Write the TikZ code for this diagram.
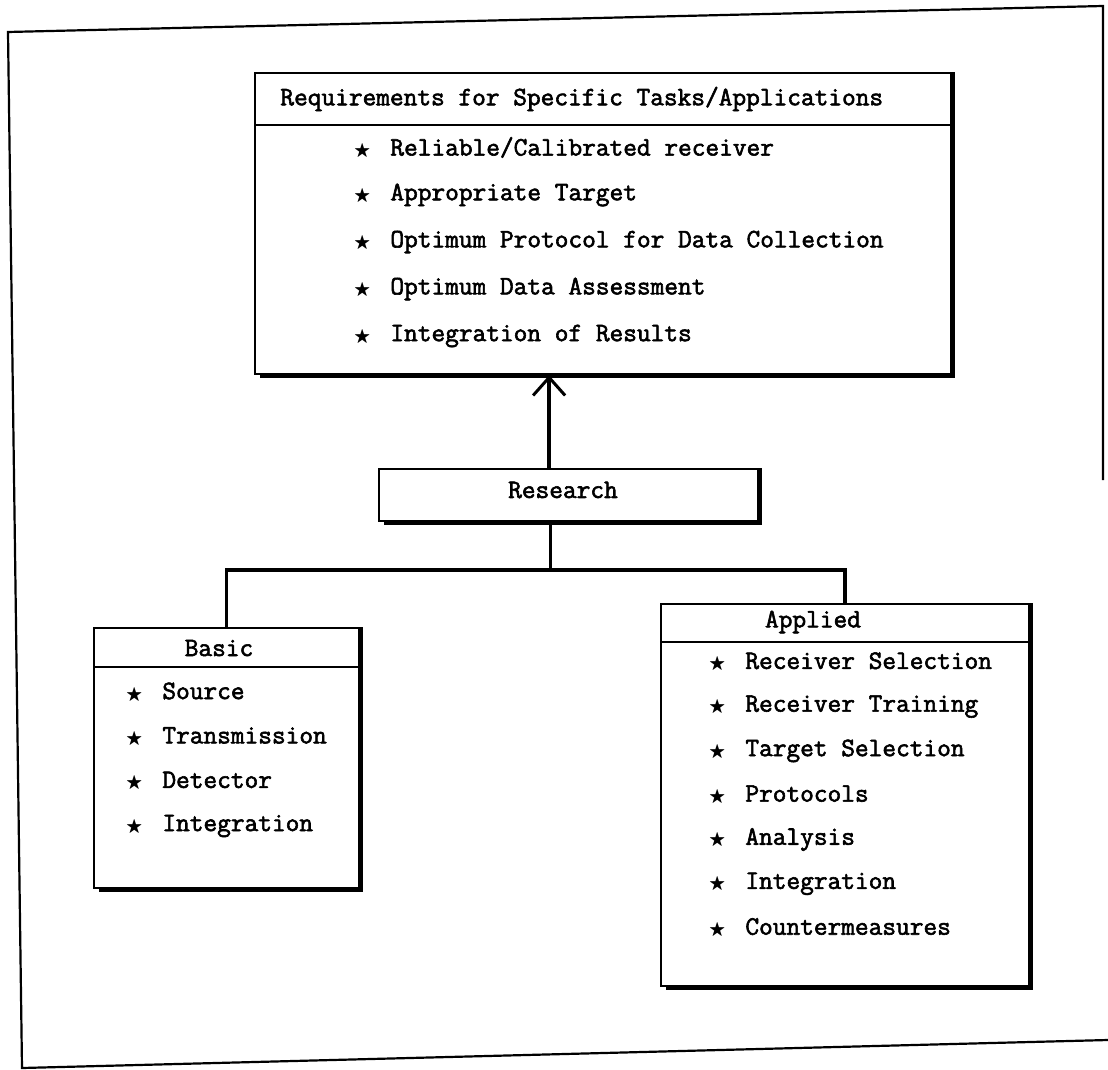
\documentclass[tikz,border=0pt]{standalone}
\usepackage{fontspec}
\usepackage{amssymb}
\newfontfamily\typewr{Latin Modern Mono}[FakeBold=2.2]
\usetikzlibrary{arrows.meta}

\newcommand{\itemstar}{\llap{\scalebox{0.65}{$\bigstar$}\hspace{10pt}}}

\tikzset{
  panel/.style={draw, line width=1.1pt, inner sep=0pt, anchor=north west},
  shadowline/.style={line width=2.6pt},
  divider/.style={line width=0.9pt},
  link/.style={line width=1.8pt},
  entry/.style={anchor=west, inner sep=0pt,
    font=\typewr\bfseries\fontsize{13.3}{16}\selectfont},
  title/.style={entry, anchor=center}
}

\begin{document}
\begin{tikzpicture}[x=0.5pt, y=-0.5pt]
  \useasboundingbox (0,0) rectangle (1108,1070);

  % page frame
  \draw[line width=1.1pt] (1103,480) -- (1103,6) -- (8,32) -- (22,1068) -- (1108,1040);

  % requirements box
  \node[panel, minimum width=348pt, minimum height=150.5pt] (req) at (254,72) {};
  \draw[shadowline] ([xshift=3pt]req.south west) -- (req.south east) -- (req.north east);
  \draw[divider] ([yshift=-26.5pt]req.north west) -- ([yshift=-26.5pt]req.north east);
  \node[entry] (reqtitle) at (280,99) {Requirements for Specific Tasks/Applications};
  \foreach \t [count=\i] in {Reliable/Calibrated receiver, Appropriate Target,
      Optimum Protocol for Data Collection, Optimum Data Assessment,
      Integration of Results}
    \node[entry] (req-\i) at (390,101+47*\i) {\itemstar\t};

  % research box
  \node[panel, minimum width=189.5pt, minimum height=26pt] (res) at (378,468) {};
  \draw[shadowline] ([xshift=3pt]res.south west) -- (res.south east) -- (res.north east);
  \node[title] (restitle) at (563,490) {Research};

  % basic box
  \node[panel, minimum width=132.5pt, minimum height=130pt] (basic) at (93,627) {};
  \draw[shadowline] ([xshift=3pt]basic.south west) -- (basic.south east) -- (basic.north east);
  \draw[divider] ([yshift=-20pt]basic.north west) -- ([yshift=-20pt]basic.north east);
  \node[title] (basictitle) at (219,648) {Basic};
  \foreach \t [count=\i] in {Source, Transmission, Detector, Integration}
    \node[entry] (basic-\i) at (162,648+44.5*\i) {\itemstar\t};

  % applied box
  \node[panel, minimum width=184pt, minimum height=191pt] (app) at (660,603) {};
  \draw[shadowline] ([xshift=3pt]app.south west) -- (app.south east) -- (app.north east);
  \draw[divider] ([yshift=-19.5pt]app.north west) -- ([yshift=-19.5pt]app.north east);
  \node[title] (apptitle) at (813,622) {Applied};
  \foreach \t [count=\i] in {Receiver Selection, Receiver Training, Target Selection,
      Protocols, Analysis, Integration, Countermeasures}
    \node[entry] (app-\i) at (745,618+44.3*\i) {\itemstar\t};

  % connectors
  \draw[link, -{Straight Barb[length=9pt, width=16pt, line width=1.5pt]}]
    ([xshift=-9.75pt]res.north) -- ([xshift=-9.75pt]res.north |- req.south);
  \coordinate (split) at ([xshift=-9pt, yshift=-24pt]res.south);
  \draw[link] ([xshift=-9pt]res.south) -- (split);
  \draw[link] (basic.north) |- (split) -| (app.north);
\end{tikzpicture}
\end{document}
